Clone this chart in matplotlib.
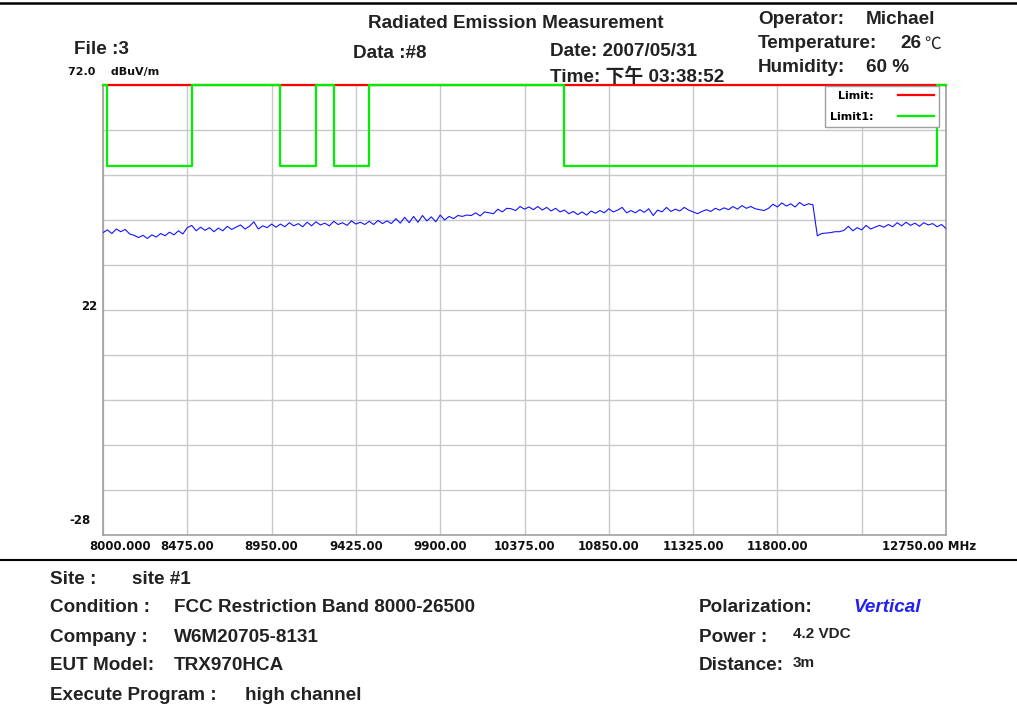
import numpy as np
import matplotlib
matplotlib.use("Agg")
import matplotlib.pyplot as plt
from matplotlib.lines import Line2D

# sweep 8000-12750 MHz, one reading every 25 MHz (dBuV/m)
freq = np.arange(8000, 12751, 25)
level = [
    39.2, 39.8, 39.0, 40.0, 39.4, 39.9, 38.9, 38.6, 38.1, 38.6,
    37.9, 38.7, 38.2, 39.0, 38.5, 39.3, 38.7, 39.6, 38.9, 40.3,
    40.8, 39.6, 40.4, 39.7, 40.3, 39.4, 40.2, 39.6, 40.6, 39.9,
    40.4, 40.9, 40.0, 40.6, 41.6, 40.0, 40.7, 40.3, 41.1, 40.4,
    41.1, 40.5, 41.4, 40.7, 41.2, 40.5, 41.5, 40.7, 41.6, 40.9,
    41.3, 40.7, 41.7, 41.0, 41.4, 40.8, 41.8, 41.1, 41.5, 41.0,
    41.7, 41.0, 41.9, 41.2, 41.8, 41.2, 42.3, 41.3, 42.6, 41.4,
    42.8, 41.5, 43.0, 41.8, 42.7, 41.6, 43.1, 42.0, 42.8, 42.3,
    43.0, 42.8, 43.1, 43.0, 43.6, 42.9, 43.8, 43.6, 43.4, 44.4,
    43.8, 44.6, 44.5, 44.1, 45.0, 44.4, 44.9, 44.3, 45.0, 44.2,
    44.8, 44.0, 44.6, 43.8, 44.2, 43.4, 43.9, 43.2, 43.8, 43.1,
    44.0, 43.5, 44.1, 43.6, 44.5, 43.8, 44.2, 44.8, 43.6, 44.1,
    43.6, 44.3, 43.7, 44.5, 43.0, 44.2, 43.8, 44.8, 43.9, 44.4,
    44.0, 44.8, 44.2, 43.8, 43.4, 43.9, 44.3, 43.9, 44.6, 44.2,
    44.7, 44.3, 45.0, 44.4, 45.2, 44.6, 45.0, 44.5, 44.3, 44.1,
    44.6, 45.5, 44.9, 45.8, 45.1, 45.6, 44.9, 45.9, 45.2, 45.6,
    45.4, 38.5, 39.0, 39.1, 39.2, 39.4, 39.4, 39.7, 40.6, 39.6,
    40.3, 39.8, 40.8, 40.0, 40.4, 40.8, 40.4, 41.0, 40.5, 41.4,
    40.7, 41.5, 40.8, 41.3, 40.6, 41.4, 40.9, 41.2, 40.5, 41.0,
    40.1,
]

limit_val = 72
limit1_low = 54
# FCC restricted bands inside the sweep (MHz)
bands = [(8025, 8500), (9000, 9200), (9300, 9500), (10600, 12700)]

lim1_f = [8000]
lim1_v = [limit_val]
for lo, hi in bands:
    lim1_f += [lo, lo, hi, hi]
    lim1_v += [limit_val, limit1_low, limit1_low, limit_val]
lim1_f.append(12750)
lim1_v.append(limit_val)

xticks = [8475, 8950, 9425, 9900, 10375, 10850, 11325, 11800]
xgrid = np.arange(8000, 12751, 475)
ygrid = np.arange(-28, 73, 10)

fig = plt.figure(figsize=(10.17, 7.2), dpi=100)
ax = fig.add_axes([103/1017, 1-535/720, 843/1017, 450/720])

ax.plot([8000, 12750], [limit_val, limit_val], color="#ff0000", lw=1.6,
        label="Limit:", zorder=3, clip_on=False)
ax.plot(lim1_f, lim1_v, color="#00ee00", lw=1.6, label="Limit1:", zorder=4, clip_on=False)
ax.plot(freq, level, color="#1414ff", lw=0.8, zorder=5)

ax.set_xlim(8000, 12750)
ax.set_ylim(-28, 72)
ax.set_xticks(xgrid)
ax.set_xticklabels([])
ax.set_yticks(ygrid)
ax.set_yticklabels([])
ax.tick_params(length=0)
ax.grid(True, color="#c8c8c8", lw=1.0)
for s in ax.spines.values():
    s.set_color("#a0a0a0")
    s.set_linewidth(1.2)
ax.spines["top"].set_visible(False)

tick_font = dict(family="DejaVu Sans", weight="bold", fontsize=8.5, color="#111111")
for f in xticks:
    ax.text(f, -30.5, f"{f:.2f}", ha="center", va="center", **tick_font)
fig.text(120/1017, 1-546/720, "8000.000", ha="center", va="center", **tick_font)
fig.text(882/1017, 1-546/720, "12750.00 MHz", ha="left", va="center", **tick_font)

fig.text(89/1017, 1-307/720, "22", ha="center", va="center", **tick_font)
fig.text(80/1017, 1-521/720, "-28", ha="center", va="center", **tick_font)
fig.text(68/1017, 1-72/720, "72.0    dBuV/m", ha="left", va="center",
         family="DejaVu Sans", weight="bold", fontsize=8, color="#111111")

leg = ax.legend(loc="upper right", bbox_to_anchor=(0.9935, 1.0), markerfirst=False,
                fancybox=False, framealpha=1, edgecolor="#a0a0a0", handlelength=3.3,
                handletextpad=2.2, labelspacing=0.95, borderpad=0.45, borderaxespad=0.1,
                prop=dict(family="DejaVu Sans", weight="bold", size=8))
leg.get_frame().set_linewidth(1.0)

fam = ["Liberation Sans", "Noto Sans CJK SC", "DejaVu Sans"]
hdr = dict(family=fam, weight="bold", fontsize=13.6, color="#222222", va="center", ha="left")

def ftext(x, y, s, **kw):
    opts = dict(hdr)
    opts.update(kw)
    # small downward nudge so the glyph centres line up with the reference rows
    fig.text(x/1017, 1-(y+2)/720, s, **opts)

ftext(516, 22, "Radiated Emission Measurement", ha="center")
ftext(74, 48, "File :3")
ftext(353, 52, "Data :#8")
ftext(550, 50, "Date: 2007/05/31")
ftext(550, 75, "Time: 下午 03:38:52")
ftext(758, 17, "Operator:")
ftext(866, 17, "Michael")
ftext(758, 41, "Temperature:")
ftext(900, 41, "26")
ftext(924, 42, "℃", weight="normal", fontsize=12)
ftext(758, 66, "Humidity:")
ftext(866, 66, "60 %")

ftext(50, 578, "Site :")
ftext(132, 578, "site #1")
ftext(50, 605, "Condition :")
ftext(174, 605, "FCC Restriction Band 8000-26500")
ftext(50, 635, "Company :")
ftext(174, 635, "W6M20705-8131")
ftext(50, 663, "EUT Model:")
ftext(174, 663, "TRX970HCA")
ftext(50, 694, "Execute Program :")
ftext(245, 694, "high channel")
ftext(699, 605, "Polarization:")
ftext(853, 605, "Vertical", color="#2222ee", style="italic")
ftext(699, 635, "Power :")
ftext(793, 632, "4.2 VDC", fontsize=11)
ftext(699, 664, "Distance:")
ftext(793, 661, "3m", fontsize=11)

fig.add_artist(Line2D([0, 1], [1-3/720, 1-3/720], color="black", lw=1.8))
fig.add_artist(Line2D([0, 1], [1-560/720, 1-560/720], color="black", lw=1.5))

fig.savefig("out.png", dpi=100)
